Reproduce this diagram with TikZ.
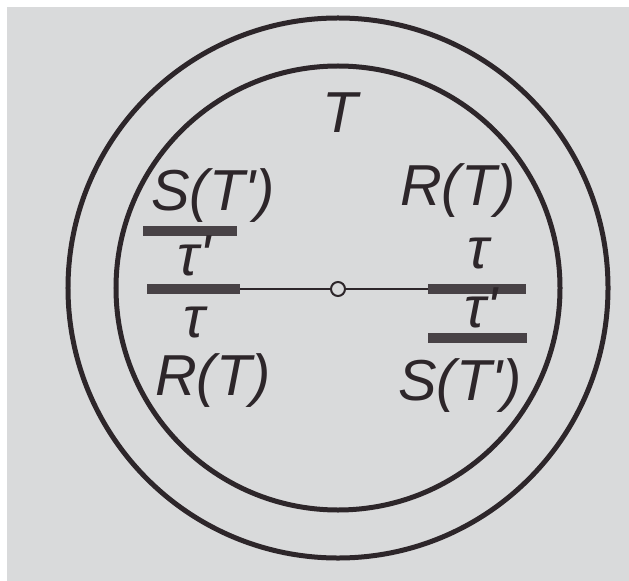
\documentclass[tikz,border=0pt]{standalone}
\usepackage{fontspec}
\setmainfont{Liberation Sans}
\definecolor{bg}{RGB}{217,218,219}
\definecolor{ink}{RGB}{45,38,42}
\definecolor{barc}{RGB}{72,66,70}
\tikzset{
  txt/.style={font=\fontsize{58}{58}\selectfont\itshape, text=ink, inner sep=0pt, anchor=base},
  bar/.style={rectangle, fill=barc, inner sep=0pt, minimum height=10bp},
  ring/.style={draw=ink, line width=5bp},
  thin/.style={draw=ink, line width=2bp}
}
\begin{document}
\begin{tikzpicture}[x=1bp,y=-1bp]
\fill[white] (0,0) rectangle (629,581);
\fill[bg] (7,7) rectangle (629,581);
\useasboundingbox (0,0) rectangle (629,581);
\path[ring] (338,288) circle[radius=270bp];
\path[ring] (338,288) circle[radius=222bp];
% bars
\node[bar, minimum width=94bp] (lb1) at (190,231) {};
\node[bar, minimum width=93bp] (lb2) at (193.5,289) {};
\node[bar, minimum width=98bp] (rb1) at (477,289) {};
\node[bar, minimum width=99bp] (rb2) at (477.5,338) {};
% centre
\node[circle, thin, fill=bg, minimum size=14bp, inner sep=0pt] (o) at (338,289) {};
\draw[thin] (lb2.east) -- (o.west);
\draw[thin] (o.east) -- (rb1.west);
% labels
\node[txt] (t) at (340,133) {T};
\node[txt] (lS) at (213,210) {S(T\textquotesingle)};
\node[txt] (ltp) at (194,275) {τ\textquotesingle};
\node[txt] (lt) at (194,337) {τ};
\node[txt] (lR) at (213,395) {R(T)};
\node[txt] (rR) at (458,205) {R(T)};
\node[txt] (rt) at (478,268) {τ};
\node[txt] (rtp) at (481,327) {τ\textquotesingle};
\node[txt] (rS) at (460,400) {S(T\textquotesingle)};
\end{tikzpicture}
\end{document}
